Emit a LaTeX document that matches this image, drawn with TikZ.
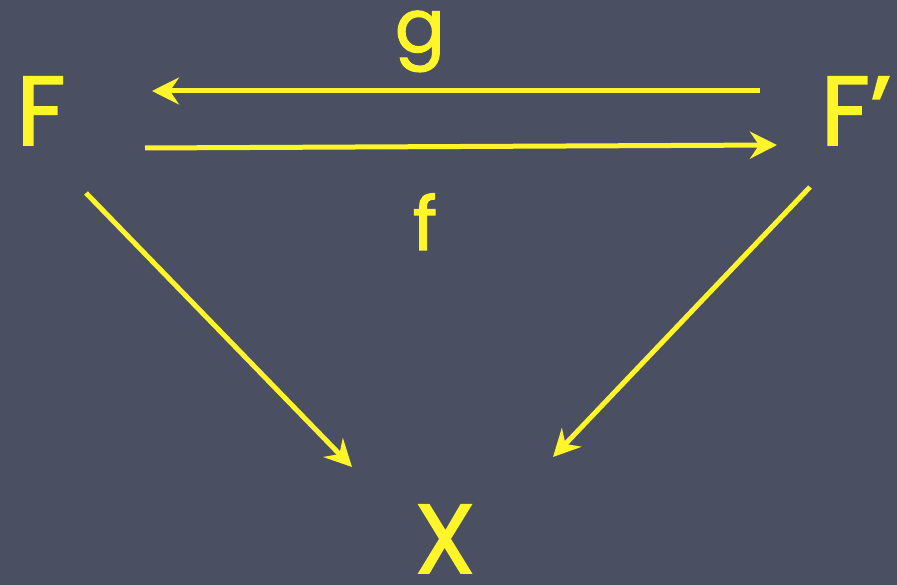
\documentclass[tikz,border=0pt]{standalone}
\usepackage{fontspec}
\setmainfont{Poppins}
\newfontfamily\chalkfont{Poppins}[UprightFeatures={FakeBold=1.6}]
\usetikzlibrary{arrows.meta}
\definecolor{board}{RGB}{74,80,97}
\definecolor{chalk}{RGB}{255,245,40}
\begin{document}
\begin{tikzpicture}[x=1pt,y=-1pt,
  lbl/.style={text=chalk,inner sep=0pt,anchor=base},
  big/.style={lbl,font=\fontsize{98}{98}\chalkfont},
  small/.style={lbl,font=\fontsize{74}{74}\chalkfont},
  arr/.style={draw=chalk,line width=5pt,-{Stealth[length=27pt,width=27pt,inset=9pt]}}]
\useasboundingbox (0,0) rectangle (897,585);
\fill[board] (0,0) rectangle (897,585);
\node[big] (F) at (41,145) {F};
\node[big] (Fp) at (856,145) {F’};
\node[big] (X) at (445,573) {X};
\node[small] (g) at (420,52) {g};
\node[small] (f) at (425,250) {f};
\coordinate (gs) at (760,91);
\coordinate (ge) at (152,91);
\coordinate (fs) at (145,148);
\coordinate (fe) at (777,145);
\coordinate (ls) at (86,193);
\coordinate (le) at (352,467);
\coordinate (rs) at (810,187);
\coordinate (re) at (553,457);
\draw[arr] (gs) -- (ge);
\draw[arr] (fs) -- (fe);
\draw[arr] (ls) -- (le);
\draw[arr] (rs) -- (re);
\end{tikzpicture}
\end{document}
